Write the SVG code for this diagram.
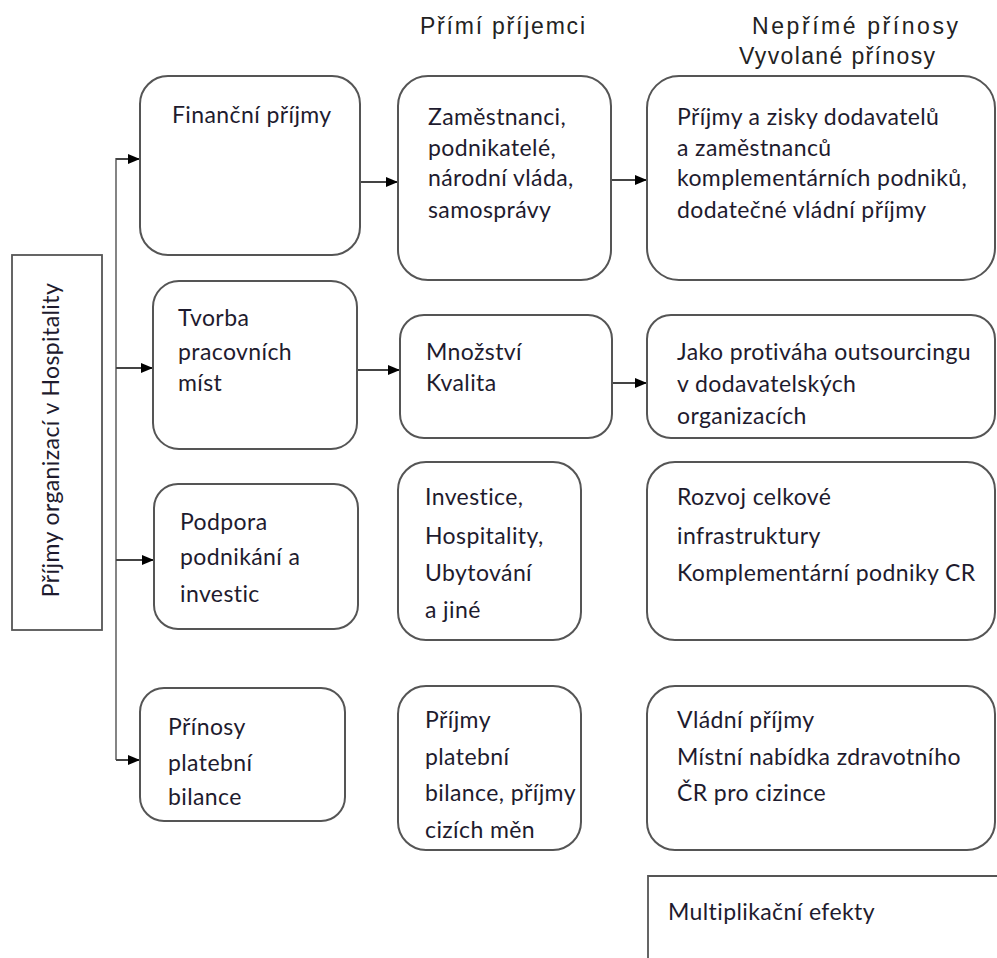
<svg xmlns="http://www.w3.org/2000/svg" width="997" height="958" viewBox="0 0 997 958">
<style>
.box{fill:#fff;stroke:#555;stroke-width:2}
.sq{fill:#fff;stroke:#555;stroke-width:1.8}
.t{font-family:Lato,"Open Sans","Noto Sans",sans-serif;font-size:23px;letter-spacing:0.4px;fill:#1e1b2e}
.h{font-family:"Liberation Sans",Arial,sans-serif;font-size:23px;fill:#222}
.c{stroke:#444;stroke-width:2;fill:none}
.cl{stroke:#666;stroke-width:1.6;fill:none}
</style>
<defs>
<marker id="ah" viewBox="0 0 12 10" refX="12" refY="5" markerWidth="12" markerHeight="10" markerUnits="userSpaceOnUse" orient="auto">
<path d="M0,0 L12,5 L0,10 Z" fill="#000"/>
</marker>
</defs>
<rect width="997" height="958" fill="#fff"/>

<g id="headers">
<text class="h" x="420" y="34" textLength="165" lengthAdjust="spacing">Přímí příjemci</text>
<text class="h" x="752" y="34" textLength="206" lengthAdjust="spacing">Nepřímé přínosy</text>
<text class="h" x="739" y="64" textLength="196" lengthAdjust="spacing">Vyvolané přínosy</text>
</g>

<g id="connectors">
<line class="cl" x1="116" y1="158" x2="116" y2="760"/>
<line class="c" x1="116" y1="159" x2="140" y2="159" marker-end="url(#ah)"/>
<line class="c" x1="116" y1="368" x2="153" y2="368" marker-end="url(#ah)"/>
<line class="c" x1="116" y1="560" x2="154" y2="560" marker-end="url(#ah)"/>
<line class="c" x1="116" y1="760" x2="140" y2="760" marker-end="url(#ah)"/>
<line class="c" x1="360" y1="182" x2="398" y2="182" marker-end="url(#ah)"/>
<line class="c" x1="357" y1="370" x2="400" y2="370" marker-end="url(#ah)"/>
<line class="c" x1="611" y1="180" x2="647" y2="180" marker-end="url(#ah)"/>
<line class="c" x1="612" y1="383" x2="647" y2="383" marker-end="url(#ah)"/>
</g>

<g id="root">
<rect class="sq" x="12" y="255" width="90" height="375"/>
<text class="t" transform="translate(59,440) rotate(-90)" text-anchor="middle">Příjmy  organizací v Hospitality</text>
</g>

<g id="n-financni">
<rect class="box" x="140" y="76" width="220" height="179" rx="28"/>
<text class="t" x="172" y="123">Finanční příjmy</text>
</g>
<g id="n-tvorba">
<rect class="box" x="153" y="281" width="204" height="168" rx="26"/>
<text class="t" x="178" y="326">Tvorba</text>
<text class="t" x="178" y="360">pracovních</text>
<text class="t" x="178" y="391">míst</text>
</g>
<g id="n-podpora">
<rect class="box" x="154" y="484" width="204" height="145" rx="24"/>
<text class="t" x="180" y="530">Podpora</text>
<text class="t" x="180" y="565">podnikání a</text>
<text class="t" x="180" y="602">investic</text>
</g>
<g id="n-prinosy">
<rect class="box" x="140" y="688" width="205" height="133" rx="24"/>
<text class="t" x="168" y="735">Přínosy</text>
<text class="t" x="168" y="771">platební</text>
<text class="t" x="168" y="805">bilance</text>
</g>

<g id="m-zamestnanci">
<rect class="box" x="398" y="76" width="213" height="204" rx="30"/>
<text class="t" x="428" y="125">Zaměstnanci,</text>
<text class="t" x="428" y="156">podnikatelé,</text>
<text class="t" x="428" y="186">národní vláda,</text>
<text class="t" x="428" y="218">samosprávy</text>
</g>
<g id="m-mnozstvi">
<rect class="box" x="400" y="315" width="212" height="123" rx="24"/>
<text class="t" x="426" y="360">Množství</text>
<text class="t" x="426" y="391">Kvalita</text>
</g>
<g id="m-investice">
<rect class="box" x="398" y="462" width="183" height="178" rx="28"/>
<text class="t" x="425" y="505">Investice,</text>
<text class="t" x="425" y="544">Hospitality,</text>
<text class="t" x="425" y="581">Ubytování</text>
<text class="t" x="425" y="618">a jiné</text>
</g>
<g id="m-prijmy">
<rect class="box" x="398" y="686" width="183" height="164" rx="28"/>
<text class="t" x="425" y="728">Příjmy</text>
<text class="t" x="425" y="765">platební</text>
<text class="t" x="425" y="801">bilance, příjmy</text>
<text class="t" x="425" y="838">cizích měn</text>
</g>

<g id="r-dodavatele">
<rect class="box" x="647" y="76" width="348" height="204" rx="32"/>
<text class="t" x="677" y="125">Příjmy a zisky dodavatelů</text>
<text class="t" x="677" y="156">a zaměstnanců</text>
<text class="t" x="677" y="186">komplementárních podniků,</text>
<text class="t" x="677" y="218">dodatečné vládní příjmy</text>
</g>
<g id="r-outsourcing">
<rect class="box" x="647" y="315" width="348" height="123" rx="24"/>
<text class="t" x="677" y="360">Jako protiváha outsourcingu</text>
<text class="t" x="677" y="392">v dodavatelských</text>
<text class="t" x="677" y="424">organizacích</text>
</g>
<g id="r-rozvoj">
<rect class="box" x="647" y="462" width="348" height="178" rx="28"/>
<text class="t" x="677" y="505">Rozvoj celkové</text>
<text class="t" x="677" y="544">infrastruktury</text>
<text class="t" x="677" y="581">Komplementární podniky CR</text>
</g>
<g id="r-vladni">
<rect class="box" x="647" y="686" width="348" height="164" rx="28"/>
<text class="t" x="677" y="728">Vládní příjmy</text>
<text class="t" x="677" y="765">Místní nabídka zdravotního</text>
<text class="t" x="677" y="801">ČR pro cizince</text>
</g>

<g id="multiplikacni">
<path class="sq" d="M997,876 L648,876 L648,958"/>
<text class="t" x="668" y="920">Multiplikační efekty</text>
</g>
</svg>
